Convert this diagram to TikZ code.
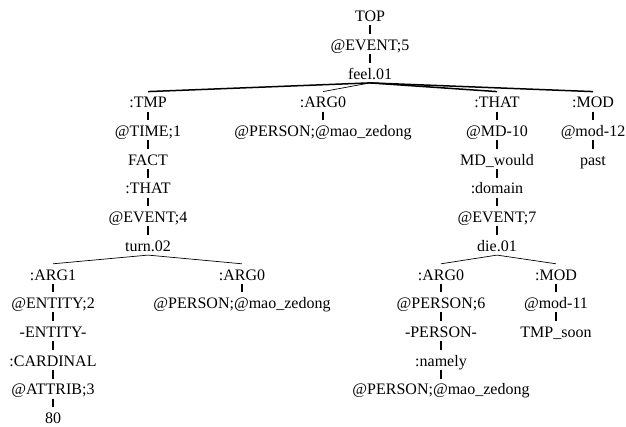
\documentclass[tikz,border=0pt]{standalone}
\usepackage{fontspec}
\setmainfont{Liberation Serif}
\begin{document}
\begin{tikzpicture}[x=1pt,y=-1pt,
  lbl/.style={font=\fontsize{16}{19}\selectfont, inner sep=0pt, outer sep=0pt,
    text height=16.3pt, text depth=3.7pt},
  tick/.style={line width=1.8pt},
  arc/.style={line width=0.7pt},
  heavy/.style={line width=1.5pt}]
\useasboundingbox (0,0) rectangle (626,427);

%% spine
\node[lbl] (top) at (370,15.5) {TOP};
\node[lbl] (ev5) at (370,44.2) {@EVENT;5};
\node[lbl] (feel) at (370,72.9) {feel.01};

%% children of feel.01
\node[lbl] (tmp) at (148,101.6) {:TMP};
\node[lbl] (argA) at (323,101.6) {:ARG0};
\node[lbl] (thatA) at (497,101.6) {:THAT};
\node[lbl] (modA) at (593,101.6) {:MOD};

\node[lbl] (time) at (148,130.3) {@TIME;1};
\node[lbl] (perA) at (323,130.3) {@PERSON;@mao\_zedong};
\node[lbl] (md) at (497,130.3) {@MD-10};
\node[lbl] (modB) at (593,130.3) {@mod-12};

\node[lbl] (fact) at (148,159.0) {FACT};
\node[lbl] (would) at (497,159.0) {MD\_would};
\node[lbl] (past) at (593,159.0) {past};

\node[lbl] (thatB) at (148,187.7) {:THAT};
\node[lbl] (domain) at (497,187.7) {:domain};

\node[lbl] (ev4) at (148,216.4) {@EVENT;4};
\node[lbl] (ev7) at (497,216.4) {@EVENT;7};

\node[lbl] (turn) at (148,245.1) {turn.02};
\node[lbl] (die) at (497,245.1) {die.01};

%% children of turn.02 and die.01
\node[lbl] (arg1) at (53,273.8) {:ARG1};
\node[lbl] (argB) at (242,273.8) {:ARG0};
\node[lbl] (argC) at (441,273.8) {:ARG0};
\node[lbl] (modC) at (556,273.8) {:MOD};

\node[lbl] (ent) at (53,302.5) {@ENTITY;2};
\node[lbl] (perB) at (242,302.5) {@PERSON;@mao\_zedong};
\node[lbl] (per6) at (441,302.5) {@PERSON;6};
\node[lbl] (mod11) at (556,302.5) {@mod-11};

\node[lbl] (entity) at (53,331.2) {-ENTITY-};
\node[lbl] (person) at (441,331.2) {-PERSON-};
\node[lbl] (soon) at (556,331.2) {TMP\_soon};

\node[lbl] (card) at (53,359.9) {:CARDINAL};
\node[lbl] (namely) at (441,359.9) {:namely};

\node[lbl] (attr) at (53,388.6) {@ATTRIB;3};
\node[lbl] (perC) at (441,388.6) {@PERSON;@mao\_zedong};

\node[lbl] (eighty) at (53,417.3) {80};

%% vertical links
\draw[tick] (top) -- (ev5);
\draw[tick] (ev5) -- (feel);
\draw[tick] (tmp) -- (time);
\draw[tick] (time) -- (fact);
\draw[tick] (fact) -- (thatB);
\draw[tick] (thatB) -- (ev4);
\draw[tick] (ev4) -- (turn);
\draw[tick] (argA) -- (perA);
\draw[tick] (thatA) -- (md);
\draw[tick] (md) -- (would);
\draw[tick] (would) -- (domain);
\draw[tick] (domain) -- (ev7);
\draw[tick] (ev7) -- (die);
\draw[tick] (modA) -- (modB);
\draw[tick] (modB) -- (past);
\draw[tick] (arg1) -- (ent);
\draw[tick] (ent) -- (entity);
\draw[tick] (entity) -- (card);
\draw[tick] (card) -- (attr);
\draw[tick] (attr) -- (eighty);
\draw[tick] (argB) -- (perB);
\draw[tick] (argC) -- (per6);
\draw[tick] (per6) -- (person);
\draw[tick] (person) -- (namely);
\draw[tick] (namely) -- (perC);
\draw[tick] (modC) -- (mod11);
\draw[tick] (mod11) -- (soon);

%% branches
\draw[heavy] (feel.south) -- (tmp.north);
\draw[arc] (feel.south) -- (argA.north);
\draw[heavy] (feel.south) -- (thatA.north);
\draw[heavy] (feel.south) -- (modA.north);
\draw[arc] (turn.south) -- (arg1.north);
\draw[arc] (turn.south) -- (argB.north);
\draw[arc] (die.south) -- (argC.north);
\draw[arc] (die.south) -- (modC.north);

\end{tikzpicture}
\end{document}
